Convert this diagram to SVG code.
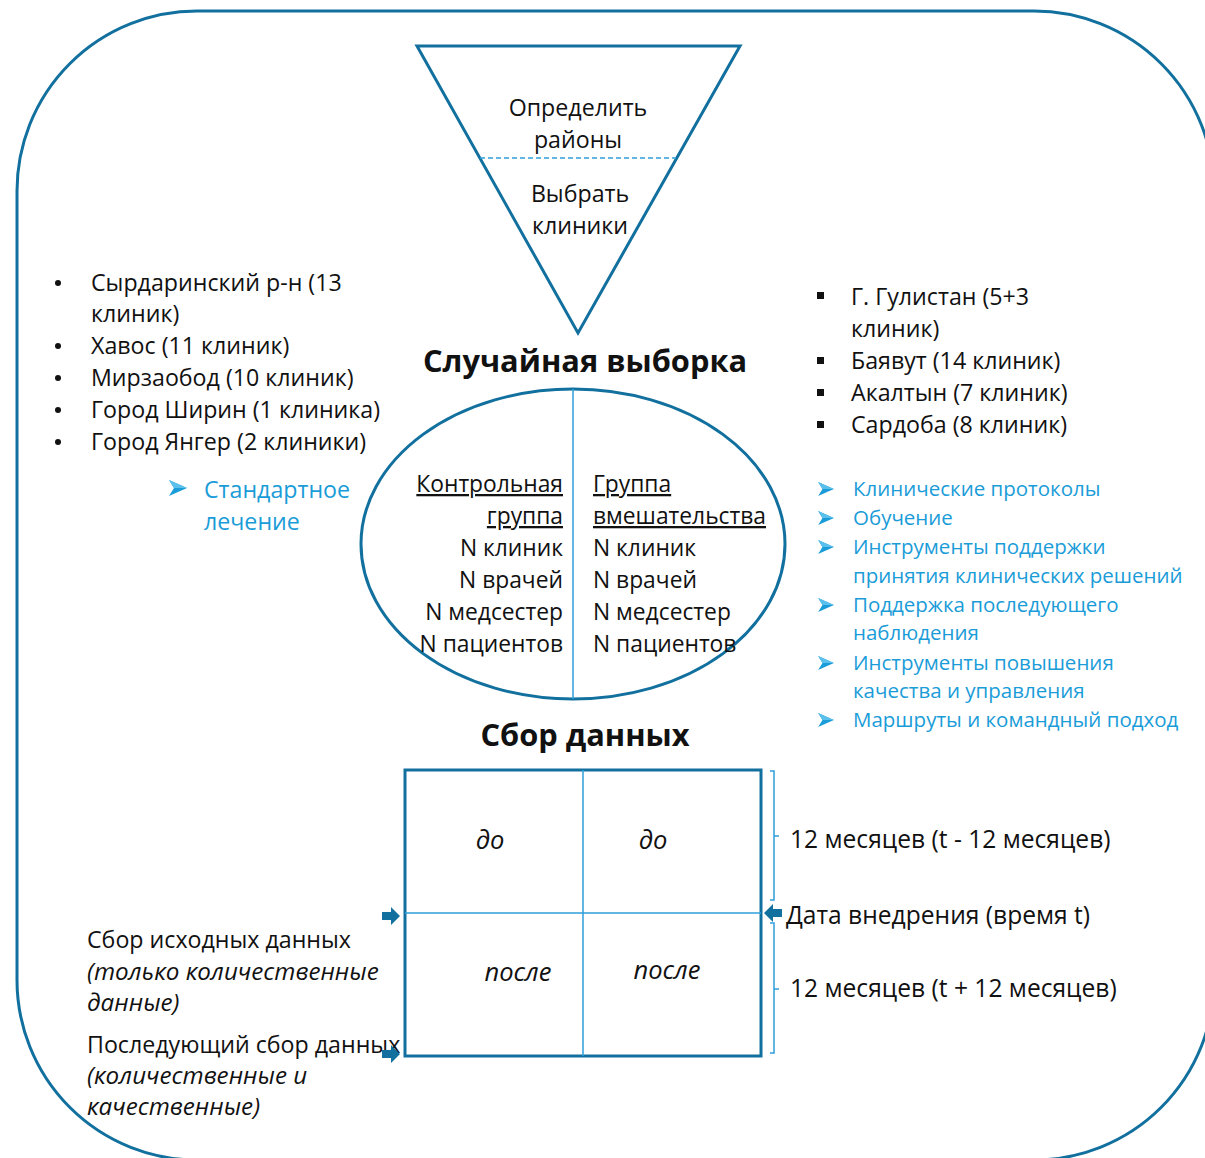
<svg xmlns="http://www.w3.org/2000/svg" width="1205" height="1158" viewBox="0 0 1205 1158">
<defs>
<style>
text{font-family:"Open Sans","Noto Sans","DejaVu Sans",sans-serif;fill:#111;font-size:23.2px}
.b{fill:#1A9CD8}
.sm{font-size:20.5px}
.bold{font-weight:bold;font-size:30.8px}
.it{font-style:italic;font-size:24.2px}
.git{font-style:italic;font-size:25.5px}
.el{font-size:22.8px}
.pd{font-size:24.6px}
.u{text-decoration:underline}
.dk{fill:none;stroke:#12709F;stroke-width:3}
.lt{fill:none;stroke:#2E9FDA;stroke-width:1.5}
.arr{fill:#12709F}
</style>
<symbol id="chev" viewBox="0 0 18 16"><path d="M0,0 L18,8 L0,16 L5,8 Z" fill="#1A9CD8"/><path d="M0,0 L18,8 L5,8 Z" fill="#5CC0EC"/></symbol>
</defs>
<rect width="1205" height="1158" fill="#fff"/>
<g id="frame"><rect x="17" y="11" width="1197" height="1149" rx="180" ry="180" class="dk" stroke-width="2.5"/></g>

<g id="funnel">
<polygon points="417,46 740,46 578,333" class="dk"/>
<line x1="480" y1="158" x2="676" y2="158" stroke="#2E9FDA" stroke-width="1.5" stroke-dasharray="5,3"/>
<text x="578" y="116" text-anchor="middle">Определить</text>
<text x="578" y="148" text-anchor="middle">районы</text>
<text x="580" y="202" text-anchor="middle">Выбрать</text>
<text x="580" y="234" text-anchor="middle">клиники</text>
</g>

<g id="left-districts">
<circle cx="58" cy="283" r="3" fill="#111"/>
<circle cx="58" cy="346" r="3" fill="#111"/>
<circle cx="58" cy="378" r="3" fill="#111"/>
<circle cx="58" cy="410" r="3" fill="#111"/>
<circle cx="58" cy="442" r="3" fill="#111"/>
<text x="91" y="291">Сырдаринский р-н (13</text>
<text x="91" y="322">клиник)</text>
<text x="91" y="354">Хавос (11 клиник)</text>
<text x="91" y="386">Мирзаобод (10 клиник)</text>
<text x="91" y="418">Город Ширин (1 клиника)</text>
<text x="91" y="450">Город Янгер (2 клиники)</text>
</g>

<g id="standard">
<use href="#chev" x="169" y="480" width="18" height="16"/>
<text x="204" y="498" class="b">Стандартное</text>
<text x="204" y="530" class="b">лечение</text>
</g>

<g id="right-districts">
<rect x="817" y="292" width="7" height="7" fill="#111"/>
<rect x="817" y="357" width="7" height="7" fill="#111"/>
<rect x="817" y="389" width="7" height="7" fill="#111"/>
<rect x="817" y="421" width="7" height="7" fill="#111"/>
<text x="851" y="305">Г. Гулистан (5+3</text>
<text x="851" y="337">клиник)</text>
<text x="851" y="369">Баявут (14 клиник)</text>
<text x="851" y="401">Акалтын (7 клиник)</text>
<text x="851" y="433">Сардоба (8 клиник)</text>
</g>

<g id="random-title"><text x="585" y="372" text-anchor="middle" class="bold">Случайная выборка</text></g>

<g id="groups">
<ellipse cx="573" cy="544" rx="212" ry="155" class="dk"/>
<line x1="573" y1="389" x2="573" y2="699" class="lt"/>
<text x="563" y="492" text-anchor="end" class="el u">Контрольная</text>
<text x="563" y="524" text-anchor="end" class="el u">группа</text>
<text x="563" y="556" text-anchor="end" class="el">N клиник</text>
<text x="563" y="588" text-anchor="end" class="el">N врачей</text>
<text x="563" y="620" text-anchor="end" class="el">N медсестер</text>
<text x="563" y="652" text-anchor="end" class="el">N пациентов</text>
<text x="593" y="492" class="el u">Группа</text>
<text x="593" y="524" class="el u">вмешательства</text>
<text x="593" y="556" class="el">N клиник</text>
<text x="593" y="588" class="el">N врачей</text>
<text x="593" y="620" class="el">N медсестер</text>
<text x="593" y="652" class="el">N пациентов</text>
</g>

<g id="interventions">
<use href="#chev" x="818" y="482" width="16" height="14"/>
<use href="#chev" x="818" y="511" width="16" height="14"/>
<use href="#chev" x="818" y="540" width="16" height="14"/>
<use href="#chev" x="818" y="598" width="16" height="14"/>
<use href="#chev" x="818" y="656" width="16" height="14"/>
<use href="#chev" x="818" y="713" width="16" height="14"/>
<text x="853" y="496" class="b sm">Клинические протоколы</text>
<text x="853" y="525" class="b sm">Обучение</text>
<text x="853" y="554" class="b sm">Инструменты поддержки</text>
<text x="853" y="583" class="b sm">принятия клинических решений</text>
<text x="853" y="612" class="b sm">Поддержка последующего</text>
<text x="853" y="640" class="b sm">наблюдения</text>
<text x="853" y="670" class="b sm">Инструменты повышения</text>
<text x="853" y="698" class="b sm">качества и управления</text>
<text x="853" y="727" class="b sm">Маршруты и командный подход</text>
</g>

<g id="collect-title"><text x="585" y="746" text-anchor="middle" class="bold">Сбор данных</text></g>

<g id="grid">
<rect x="405" y="770" width="356" height="286" class="dk"/>
<line x1="583" y1="770" x2="583" y2="1056" class="lt"/>
<line x1="405" y1="913" x2="761" y2="913" class="lt"/>
<text x="490" y="849" text-anchor="middle" class="git">до</text>
<text x="653" y="849" text-anchor="middle" class="git">до</text>
<text x="518" y="981" text-anchor="middle" class="git">после</text>
<text x="667" y="979" text-anchor="middle" class="git">после</text>
</g>

<g id="periods">
<path d="M770,771 H774 V900 H770 M774,836 H779" class="lt"/>
<path d="M770,923 H774 V1053 H770 M774,989 H779" class="lt"/>
<text x="790" y="848" class="pd">12 месяцев (t - 12 месяцев)</text>
<text x="786" y="924" class="pd">Дата внедрения (время t)</text>
<text x="790" y="997" class="pd">12 месяцев (t + 12 месяцев)</text>
</g>

<g id="collection-labels">
<text x="87" y="948">Сбор исходных данных</text>
<text x="87" y="980" class="it">(только количественные</text>
<text x="87" y="1011" class="it">данные)</text>
<text x="87" y="1053">Последующий сбор данных</text>
<text x="87" y="1084" class="it">(количественные и</text>
<text x="87" y="1115" class="it">качественные)</text>
</g>

<g id="connectors">
<path class="arr" d="M382,912 H391 V907 L400,916 L391,925 V920 H382 Z"/>
<path class="arr" d="M382,1050 H391 V1045 L400,1054 L391,1063 V1058 H382 Z"/>
<path class="arr" d="M782,909 H773 V904 L764,913 L773,922 V917 H782 Z"/>
</g>
</svg>
